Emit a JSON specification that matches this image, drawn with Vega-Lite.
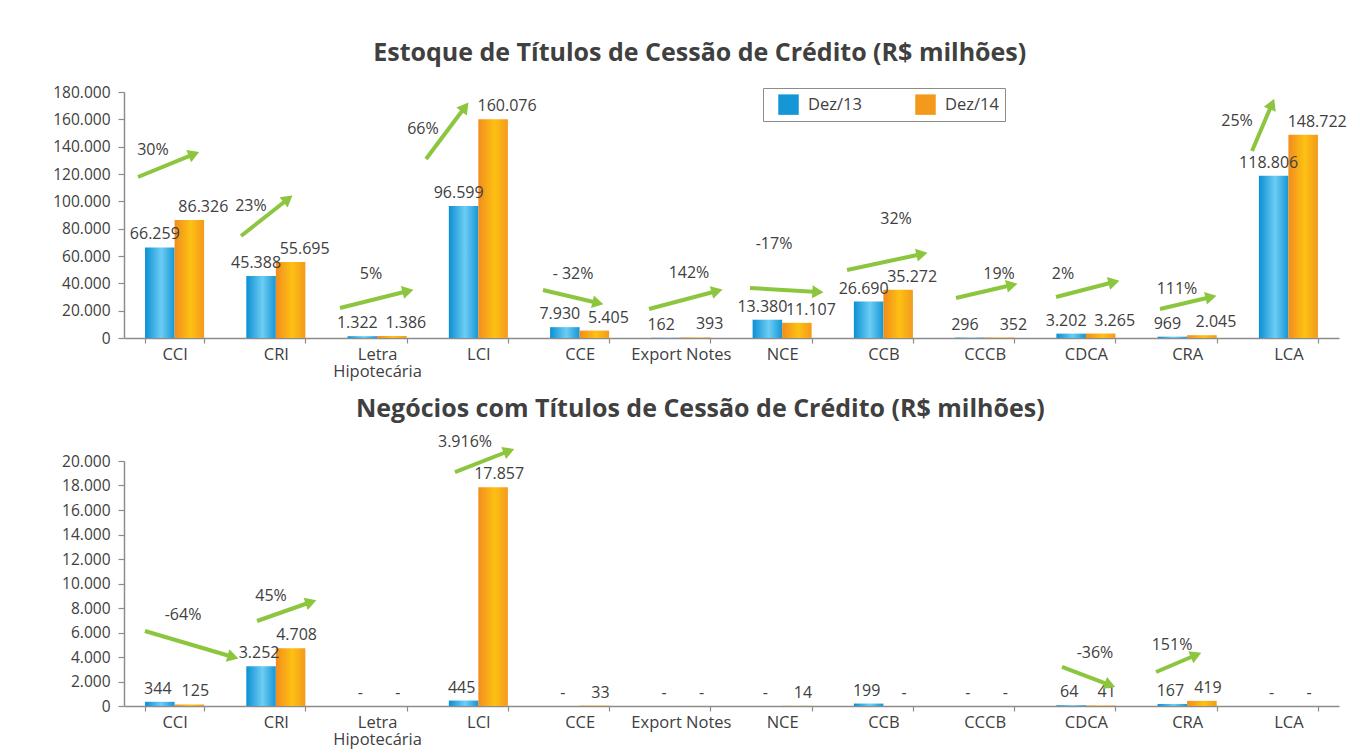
{
  "$schema": "https://vega.github.io/schema/vega-lite/v6.json",
  "padding": {"left": 52, "top": 41, "right": 10, "bottom": 5},
  "background": "white",
  "config": {
    "locale": {"number": {"decimal": ",", "thousands": ".", "grouping": [3], "currency": ["R$ ", ""]}},
    "view": {"stroke": null},
    "font": "Open Sans",
    "axis": {"labelFont": "Open Sans", "labelFontSize": 15.5, "labelColor": "#404040", "domainColor": "#8c8c8c", "domainWidth": 1.5, "tickColor": "#8c8c8c", "tickWidth": 1.2, "grid": false, "labelOverlap": false},
    "axisX": {"labelFontSize": 16.5, "tickSize": 5, "labelPadding": 3, "labelAngle": 0},
    "axisY": {"tickSize": 6, "labelPadding": 8},
    "title": {"font": "Open Sans", "fontSize": 25, "fontWeight": "bold", "color": "#404040", "anchor": "middle", "frame": "bounds"}
  },
  "datasets": {
    "estoque": [
      {"cat": "CCI", "serie": "Dez/13", "v": 66259}, {"cat": "CCI", "serie": "Dez/14", "v": 86326},
      {"cat": "CRI", "serie": "Dez/13", "v": 45388}, {"cat": "CRI", "serie": "Dez/14", "v": 55695},
      {"cat": "Letra Hipotecária", "serie": "Dez/13", "v": 1322}, {"cat": "Letra Hipotecária", "serie": "Dez/14", "v": 1386},
      {"cat": "LCI", "serie": "Dez/13", "v": 96599}, {"cat": "LCI", "serie": "Dez/14", "v": 160076},
      {"cat": "CCE", "serie": "Dez/13", "v": 7930}, {"cat": "CCE", "serie": "Dez/14", "v": 5405},
      {"cat": "Export Notes", "serie": "Dez/13", "v": 162}, {"cat": "Export Notes", "serie": "Dez/14", "v": 393},
      {"cat": "NCE", "serie": "Dez/13", "v": 13380}, {"cat": "NCE", "serie": "Dez/14", "v": 11107},
      {"cat": "CCB", "serie": "Dez/13", "v": 26690}, {"cat": "CCB", "serie": "Dez/14", "v": 35272},
      {"cat": "CCCB", "serie": "Dez/13", "v": 296}, {"cat": "CCCB", "serie": "Dez/14", "v": 352},
      {"cat": "CDCA", "serie": "Dez/13", "v": 3202}, {"cat": "CDCA", "serie": "Dez/14", "v": 3265},
      {"cat": "CRA", "serie": "Dez/13", "v": 969}, {"cat": "CRA", "serie": "Dez/14", "v": 2045},
      {"cat": "LCA", "serie": "Dez/13", "v": 118806}, {"cat": "LCA", "serie": "Dez/14", "v": 148722}
    ],
    "negocios": [
      {"cat": "CCI", "serie": "Dez/13", "v": 344}, {"cat": "CCI", "serie": "Dez/14", "v": 125},
      {"cat": "CRI", "serie": "Dez/13", "v": 3252}, {"cat": "CRI", "serie": "Dez/14", "v": 4708},
      {"cat": "Letra Hipotecária", "serie": "Dez/13", "v": 0}, {"cat": "Letra Hipotecária", "serie": "Dez/14", "v": 0},
      {"cat": "LCI", "serie": "Dez/13", "v": 445}, {"cat": "LCI", "serie": "Dez/14", "v": 17857},
      {"cat": "CCE", "serie": "Dez/13", "v": 0}, {"cat": "CCE", "serie": "Dez/14", "v": 33},
      {"cat": "Export Notes", "serie": "Dez/13", "v": 0}, {"cat": "Export Notes", "serie": "Dez/14", "v": 0},
      {"cat": "NCE", "serie": "Dez/13", "v": 0}, {"cat": "NCE", "serie": "Dez/14", "v": 14},
      {"cat": "CCB", "serie": "Dez/13", "v": 199}, {"cat": "CCB", "serie": "Dez/14", "v": 0},
      {"cat": "CCCB", "serie": "Dez/13", "v": 0}, {"cat": "CCCB", "serie": "Dez/14", "v": 0},
      {"cat": "CDCA", "serie": "Dez/13", "v": 64}, {"cat": "CDCA", "serie": "Dez/14", "v": 41},
      {"cat": "CRA", "serie": "Dez/13", "v": 167}, {"cat": "CRA", "serie": "Dez/14", "v": 419},
      {"cat": "LCA", "serie": "Dez/13", "v": 0}, {"cat": "LCA", "serie": "Dez/14", "v": 0}
    ],
    "setas_estoque": [
      {"txt": "30%", "tx": 0.138, "ty": 117800, "hx": 0.691, "hy": 134600, "lx": 0.286, "ly": 137560, "ang": -22},
      {"txt": "23%", "tx": 1.156, "ty": 74630, "hx": 1.62, "hy": 101700, "lx": 1.254, "ly": 96580, "ang": -38},
      {"txt": "5%", "tx": 2.133, "ty": 21950, "hx": 2.805, "hy": 34390, "lx": 2.44, "ly": 46830, "ang": -14},
      {"txt": "66%", "tx": 2.983, "ty": 130970, "hx": 3.368, "hy": 169020, "lx": 2.953, "ly": 152920, "ang": -53},
      {"txt": "- 32%", "tx": 4.138, "ty": 35120, "hx": 4.681, "hy": 25610, "lx": 4.435, "ly": 46830, "ang": 13},
      {"txt": "142%", "tx": 5.185, "ty": 21220, "hx": 5.857, "hy": 34390, "lx": 5.58, "ly": 47560, "ang": -15},
      {"txt": "-17%", "tx": 6.183, "ty": 36580, "hx": 6.854, "hy": 33660, "lx": 6.42, "ly": 68780, "ang": 3},
      {"txt": "32%", "tx": 7.141, "ty": 49760, "hx": 7.881, "hy": 61460, "lx": 7.625, "ly": 87070, "ang": -12},
      {"txt": "19%", "tx": 8.217, "ty": 29270, "hx": 8.77, "hy": 38780, "lx": 8.642, "ly": 46830, "ang": -13},
      {"txt": "2%", "tx": 9.205, "ty": 30000, "hx": 9.778, "hy": 40980, "lx": 9.274, "ly": 46830, "ang": -14},
      {"txt": "111%", "tx": 10.232, "ty": 21220, "hx": 10.736, "hy": 30000, "lx": 10.4, "ly": 35850, "ang": -13},
      {"txt": "25%", "tx": 11.141, "ty": 136830, "hx": 11.338, "hy": 171220, "lx": 10.993, "ly": 158780, "ang": -67}
    ],
    "setas_negocios": [
      {"txt": "-64%", "tx": 0.207, "ty": 6122, "hx": 1.077, "hy": 4000, "lx": 0.583, "ly": 7428, "ang": 16},
      {"txt": "45%", "tx": 1.314, "ty": 6939, "hx": 1.847, "hy": 8490, "lx": 1.452, "ly": 8979, "ang": -19},
      {"txt": "3.916%", "tx": 3.269, "ty": 19101, "hx": 3.802, "hy": 20816, "lx": 3.368, "ly": 21550, "ang": -21},
      {"txt": "-36%", "tx": 9.264, "ty": 3184, "hx": 9.738, "hy": 1714, "lx": 9.59, "ly": 4326, "ang": 21},
      {"txt": "151%", "tx": 10.193, "ty": 2775, "hx": 10.588, "hy": 4163, "lx": 10.351, "ly": 4979, "ang": -23}
    ]
  },
  "columns": 1,
  "spacing": 17,
  "concat": [
    {
      "title": {"text": "Estoque de Títulos de Cessão de Crédito (R$ milhões)", "offset": 19},
      "width": 1215,
      "height": 246,
      "resolve": {"scale": {"x": "independent"}},
      "layer": [
        {
          "data": {"name": "estoque"},
          "encoding": {
            "x": {"field": "cat", "type": "nominal", "sort": null, "title": null,
                  "scale": {"type": "band", "paddingInner": 0.417, "paddingOuter": 0.208},
                  "axis": {"tickBand": "extent", "labelExpr": "datum.value === 'Letra Hipotecária' ? ['Letra', 'Hipotecária'] : datum.value", "labelLineHeight": 17}},
            "xOffset": {"field": "serie", "type": "nominal", "scale": {"domain": ["Dez/13", "Dez/14"], "paddingInner": 0, "paddingOuter": 0}},
            "y": {"field": "v", "type": "quantitative", "title": null, "scale": {"domain": [0, 180000], "nice": false},
                  "axis": {"values": [0, 20000, 40000, 60000, 80000, 100000, 120000, 140000, 160000, 180000], "format": ",d"}}
          },
          "layer": [
            {
              "mark": {"type": "bar"},
              "encoding": {
                "fill": {
                  "condition": {"test": "datum.serie === 'Dez/13'", "value": {"gradient": "linear", "x1": 0, "y1": 0, "x2": 1, "y2": 0, "stops": [{"offset": 0, "color": "#0b8fd3"}, {"offset": 0.55, "color": "#6dcdf3"}, {"offset": 1, "color": "#1596d6"}]}},
                  "value": {"gradient": "linear", "x1": 0, "y1": 0, "x2": 1, "y2": 0, "stops": [{"offset": 0, "color": "#f28c1e"}, {"offset": 0.55, "color": "#fdc113"}, {"offset": 1, "color": "#f39a1d"}]}
                }
              }
            },
            {
              "transform": [{"filter": "datum.serie === 'Dez/13'"}],
              "mark": {"type": "text", "fontSize": 16, "color": "#404040", "baseline": "alphabetic", "dy": -8, "dx": -5},
              "encoding": {"text": {"field": "v", "type": "quantitative", "format": ",d"}}
            },
            {
              "transform": [{"filter": "datum.serie === 'Dez/14'"}],
              "mark": {"type": "text", "fontSize": 16, "color": "#404040", "baseline": "alphabetic", "dy": -8, "dx": 14},
              "encoding": {"text": {"field": "v", "type": "quantitative", "format": ",d"}}
            },
            {
              "mark": {"type": "point", "shape": "square", "filled": true, "opacity": 0},
              "encoding": {
                "color": {"field": "serie", "type": "nominal", "scale": {"domain": ["Dez/13", "Dez/14"], "range": ["#1596d6", "#f39a1d"]},
                  "legend": {"orient": "none", "legendX": 639, "legendY": -4, "direction": "horizontal", "title": null,
                    "strokeColor": "#8c8c8c", "fillColor": "white", "padding": 6, "symbolType": "square", "symbolSize": 420,
                    "symbolOffset": 9, "symbolOpacity": 1, "labelFontSize": 16.5, "labelFont": "Open Sans", "labelColor": "#404040",
                    "labelOffset": 9, "columnPadding": 44,
                    "encode": {"symbols": {"update": {
                      "fill": [
                        {"test": "datum.value === 'Dez/13'", "value": {"gradient": "linear", "x1": 0, "y1": 0, "x2": 1, "y2": 0, "stops": [{"offset": 0, "color": "#0b8fd3"}, {"offset": 0.55, "color": "#6dcdf3"}, {"offset": 1, "color": "#1596d6"}]}},
                        {"value": {"gradient": "linear", "x1": 0, "y1": 0, "x2": 1, "y2": 0, "stops": [{"offset": 0, "color": "#f28c1e"}, {"offset": 0.55, "color": "#fdc113"}, {"offset": 1, "color": "#f39a1d"}]}}
                      ],
                      "opacity": {"value": 1}, "fillOpacity": {"value": 1}, "strokeWidth": {"value": 0}}}}
                  }}
              }
            }
          ]
        },
        {
          "data": {"name": "setas_estoque"},
          "layer": [
            {
              "mark": {"type": "rule", "color": "#8cc63f", "strokeWidth": 4},
              "encoding": {
                "x": {"field": "tx", "type": "quantitative", "scale": {"domain": [0, 12], "nice": false, "zero": false}, "axis": null},
                "x2": {"field": "hx"},
                "y": {"field": "ty", "type": "quantitative", "title": null, "scale": {"domain": [0, 180000], "nice": false},
                      "axis": {"values": [0, 20000, 40000, 60000, 80000, 100000, 120000, 140000, 160000, 180000], "format": ",d"}},
                "y2": {"field": "hy"}
              }
            },
            {
              "mark": {"type": "point", "shape": "triangle-right", "filled": true, "color": "#8cc63f", "size": 170, "opacity": 1},
              "encoding": {
                "x": {"field": "hx", "type": "quantitative", "scale": {"domain": [0, 12], "nice": false, "zero": false}, "axis": null},
                "y": {"field": "hy", "type": "quantitative", "title": null, "scale": {"domain": [0, 180000], "nice": false},
                      "axis": {"values": [0, 20000, 40000, 60000, 80000, 100000, 120000, 140000, 160000, 180000], "format": ",d"}},
                "angle": {"field": "ang", "type": "quantitative", "scale": null}
              }
            },
            {
              "mark": {"type": "text", "fontSize": 16, "color": "#404040", "baseline": "middle", "align": "center"},
              "encoding": {
                "x": {"field": "lx", "type": "quantitative", "scale": {"domain": [0, 12], "nice": false, "zero": false}, "axis": null},
                "y": {"field": "ly", "type": "quantitative", "title": null, "scale": {"domain": [0, 180000], "nice": false},
                      "axis": {"values": [0, 20000, 40000, 60000, 80000, 100000, 120000, 140000, 160000, 180000], "format": ",d"}},
                "text": {"field": "txt", "type": "nominal"}
              }
            }
          ]
        }
      ]
    },
    {
      "title": {"text": "Negócios com Títulos de Cessão de Crédito (R$ milhões)", "offset": 12},
      "width": 1215,
      "height": 245,
      "resolve": {"scale": {"x": "independent"}},
      "layer": [
        {
          "data": {"name": "negocios"},
          "encoding": {
            "x": {"field": "cat", "type": "nominal", "sort": null, "title": null,
                  "scale": {"type": "band", "paddingInner": 0.417, "paddingOuter": 0.208},
                  "axis": {"tickBand": "extent", "labelExpr": "datum.value === 'Letra Hipotecária' ? ['Letra', 'Hipotecária'] : datum.value", "labelLineHeight": 17}},
            "xOffset": {"field": "serie", "type": "nominal", "scale": {"domain": ["Dez/13", "Dez/14"], "paddingInner": 0, "paddingOuter": 0}},
            "y": {"field": "v", "type": "quantitative", "title": null, "scale": {"domain": [0, 20000], "nice": false},
                  "axis": {"values": [0, 2000, 4000, 6000, 8000, 10000, 12000, 14000, 16000, 18000, 20000], "format": ",d"}}
          },
          "layer": [
            {
              "mark": {"type": "bar"},
              "encoding": {
                "fill": {
                  "condition": {"test": "datum.serie === 'Dez/13'", "value": {"gradient": "linear", "x1": 0, "y1": 0, "x2": 1, "y2": 0, "stops": [{"offset": 0, "color": "#0b8fd3"}, {"offset": 0.55, "color": "#6dcdf3"}, {"offset": 1, "color": "#1596d6"}]}},
                  "value": {"gradient": "linear", "x1": 0, "y1": 0, "x2": 1, "y2": 0, "stops": [{"offset": 0, "color": "#f28c1e"}, {"offset": 0.55, "color": "#fdc113"}, {"offset": 1, "color": "#f39a1d"}]}
                }
              }
            },
            {
              "transform": [{"filter": "datum.serie === 'Dez/13'"}],
              "mark": {"type": "text", "fontSize": 16, "color": "#404040", "baseline": "alphabetic", "dy": -8, "dx": -2},
              "encoding": {"text": {"condition": {"test": "datum.v === 0", "value": "-"}, "field": "v", "type": "quantitative", "format": ",d"}}
            },
            {
              "transform": [{"filter": "datum.serie === 'Dez/14'"}],
              "mark": {"type": "text", "fontSize": 16, "color": "#404040", "baseline": "alphabetic", "dy": -8, "dx": 6},
              "encoding": {"text": {"condition": {"test": "datum.v === 0", "value": "-"}, "field": "v", "type": "quantitative", "format": ",d"}}
            }
          ]
        },
        {
          "data": {"name": "setas_negocios"},
          "layer": [
            {
              "mark": {"type": "rule", "color": "#8cc63f", "strokeWidth": 4},
              "encoding": {
                "x": {"field": "tx", "type": "quantitative", "scale": {"domain": [0, 12], "nice": false, "zero": false}, "axis": null},
                "x2": {"field": "hx"},
                "y": {"field": "ty", "type": "quantitative", "title": null, "scale": {"domain": [0, 20000], "nice": false},
                      "axis": {"values": [0, 2000, 4000, 6000, 8000, 10000, 12000, 14000, 16000, 18000, 20000], "format": ",d"}},
                "y2": {"field": "hy"}
              }
            },
            {
              "mark": {"type": "point", "shape": "triangle-right", "filled": true, "color": "#8cc63f", "size": 170, "opacity": 1},
              "encoding": {
                "x": {"field": "hx", "type": "quantitative", "scale": {"domain": [0, 12], "nice": false, "zero": false}, "axis": null},
                "y": {"field": "hy", "type": "quantitative", "title": null, "scale": {"domain": [0, 20000], "nice": false},
                      "axis": {"values": [0, 2000, 4000, 6000, 8000, 10000, 12000, 14000, 16000, 18000, 20000], "format": ",d"}},
                "angle": {"field": "ang", "type": "quantitative", "scale": null}
              }
            },
            {
              "mark": {"type": "text", "fontSize": 16, "color": "#404040", "baseline": "middle", "align": "center"},
              "encoding": {
                "x": {"field": "lx", "type": "quantitative", "scale": {"domain": [0, 12], "nice": false, "zero": false}, "axis": null},
                "y": {"field": "ly", "type": "quantitative", "title": null, "scale": {"domain": [0, 20000], "nice": false},
                      "axis": {"values": [0, 2000, 4000, 6000, 8000, 10000, 12000, 14000, 16000, 18000, 20000], "format": ",d"}},
                "text": {"field": "txt", "type": "nominal"}
              }
            }
          ]
        }
      ]
    }
  ]
}
